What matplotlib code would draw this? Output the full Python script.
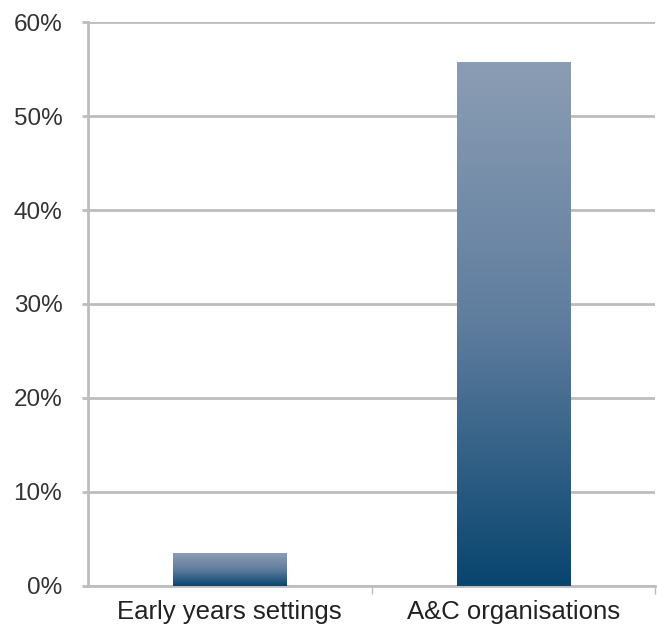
import numpy as np
import matplotlib.pyplot as plt
from matplotlib.colors import LinearSegmentedColormap

categories = ["Early years settings", "A&C organisations"]
values = [3.5, 55.7]
yticks = [0, 10, 20, 30, 40, 50, 60]

plt.rcParams['font.family'] = ['Liberation Sans', 'DejaVu Sans']

fig = plt.figure(figsize=(6.57, 6.32), dpi=100)
ax = fig.add_axes([0.134, 0.073, 0.863, 0.892])

grid_col = "#bdbdbd"
cmap = LinearSegmentedColormap.from_list("bar", ["#08456f", "#5f7d9e", "#8b9db4"])

x = np.arange(len(categories))
width = 0.4
grad = np.linspace(0, 1, 256).reshape(-1, 1)
for xi, v in zip(x, values):
    # invisible bar for the extent, gradient image on top
    ax.bar(xi, v, width=width, color="none", edgecolor="none")
    ax.imshow(grad, cmap=cmap, aspect="auto", origin="lower",
              extent=[xi - width / 2, xi + width / 2, 0, v], zorder=3)

ax.set_xlim(-0.5, len(categories) - 0.5)
ax.set_ylim(0, 60)
ax.set_yticks(yticks)
ax.set_yticklabels([f"{t}%" for t in yticks], fontsize=17.5, color="#333333")
ax.yaxis.grid(True, color=grid_col, linewidth=2)
ax.set_axisbelow(True)

ax.set_xticks(x)
ax.set_xticklabels(categories, fontsize=18.5, color="#222222")
ax.tick_params(axis="x", length=0, pad=10)
ax.set_xticks([0.5, 1.5], minor=True)
ax.tick_params(axis="x", which="minor", length=6, width=1, color=grid_col)
ax.tick_params(axis="y", length=4.5, width=2, color=grid_col, pad=14)

for s in ["top", "right"]:
    ax.spines[s].set_visible(False)
ax.spines["left"].set_color(grid_col)
ax.spines["left"].set_linewidth(2)
ax.spines["bottom"].set_color(grid_col)
ax.spines["bottom"].set_linewidth(2)

fig.savefig("out.png", dpi=100)
